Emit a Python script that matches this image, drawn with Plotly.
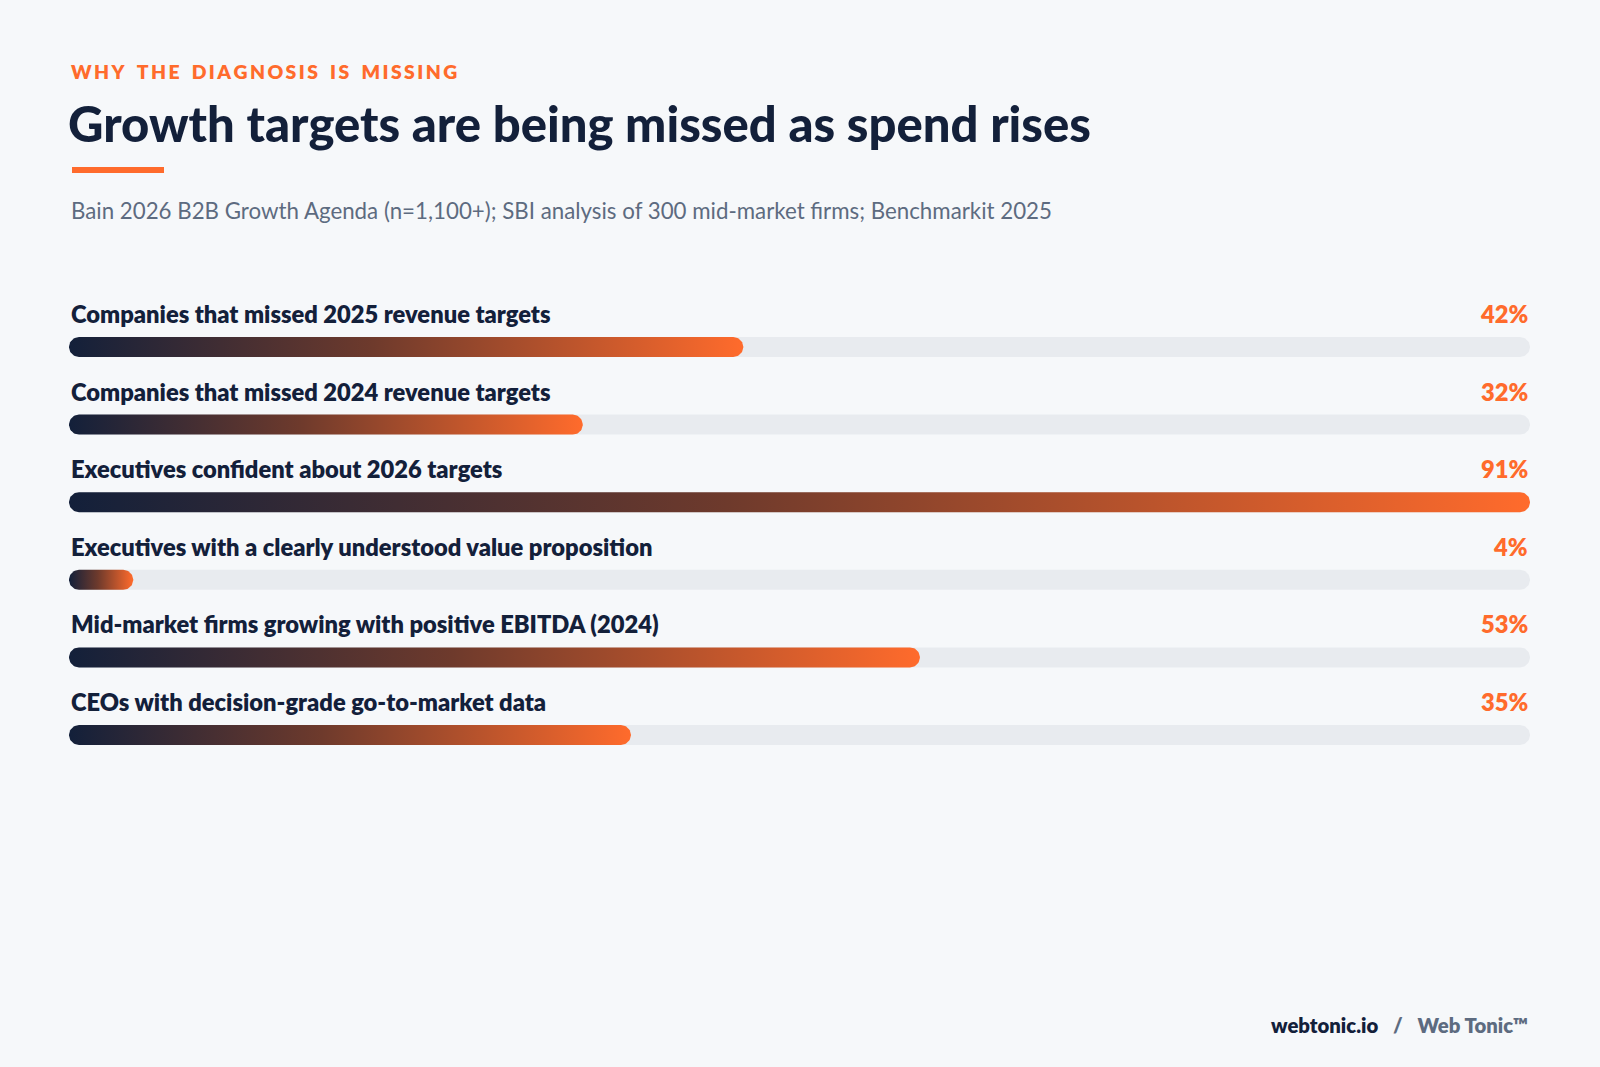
import numpy as np
import plotly.graph_objects as go

labels = ["Companies that missed 2025 revenue targets",
          "Companies that missed 2024 revenue targets",
          "Executives confident about 2026 targets",
          "Executives with a clearly understood value proposition",
          "Mid-market firms growing with positive EBITDA (2024)",
          "CEOs with decision-grade go-to-market data"]
values = [42, 32, 91, 4, 53, 35]

W, H = 1600, 1067
X0, X1 = 69, 1530
vmax = max(values)
NAVY = "#13203a"
ORANGE = "#ff6b2c"
BG = "#f6f8fa"
TRACK = "#e8ebef"
R = 10.0
rx = R * vmax / (X1 - X0)

def stadium(x_end, yc):
    t1 = np.linspace(np.pi/2, 3*np.pi/2, 30)
    t2 = np.linspace(-np.pi/2, np.pi/2, 30)
    xl = rx + rx*np.cos(t1); yl = yc - R*np.sin(t1)
    xr = max(x_end - rx, rx) + rx*np.cos(t2); yr = yc - R*np.sin(t2)
    xs = np.concatenate([xl, xr]); ys = np.concatenate([yl, yr])
    return list(xs) + [xs[0]], list(ys) + [ys[0]]

fig = go.Figure()
ann = []
for i, (lab, v) in enumerate(zip(labels, values)):
    yt = 347 + 77.6*i
    yl = 314 + 77.6*i
    tx, ty = stadium(vmax, yt)
    fig.add_trace(go.Scatter(x=tx, y=ty, fill="toself", fillcolor=TRACK, mode="lines",
                             line=dict(width=0), hoverinfo="skip", showlegend=False))
    bx, by = stadium(v, yt)
    fig.add_trace(go.Scatter(x=bx, y=by, fill="toself", mode="lines", line=dict(width=0),
                             fillgradient=dict(type="horizontal",
                                               colorscale=[[0, NAVY], [0.45, "#6e3a2c"], [1, ORANGE]]),
                             hovertemplate=f"{lab}: {v}%<extra></extra>", showlegend=False))
    ann.append(dict(x=X0/W, y=yl, xref="paper", yref="y", text=lab, showarrow=False,
                    xanchor="left", yanchor="middle",
                    font=dict(family="Lato", size=23.7, color=NAVY, weight=800)))
    ann.append(dict(x=X1/W, y=yl, xref="paper", yref="y", text=f"{v}%", showarrow=False,
                    xanchor="right", yanchor="middle",
                    font=dict(family="Lato", size=23.7, color=ORANGE, weight=800)))

tag = "\u2009".join("WHY THE DIAGNOSIS IS MISSING").replace("\u2009 \u2009", "\u2002\u2009")
ann += [
    dict(x=X0/W, y=71, xref="paper", yref="y", text=tag,
         showarrow=False, xanchor="left", yanchor="middle",
         font=dict(family="Lato", size=19.4, color=ORANGE, weight=800)),
    dict(x=X0/W - 0.002, y=123, xref="paper", yref="y", text="Growth targets are being missed as spend rises",
         showarrow=False, xanchor="left", yanchor="middle",
         font=dict(family="Lato", size=49, color=NAVY, weight=900)),
    dict(x=X0/W, y=210, xref="paper", yref="y",
         text="Bain 2026 B2B Growth Agenda (n=1,100+); SBI analysis of 300 mid-market firms; Benchmarkit 2025",
         showarrow=False, xanchor="left", yanchor="middle", font=dict(family="Lato", size=22.3, color="#5d6b80")),
    dict(x=X1/W, y=1025, xref="paper", yref="y",
         text="webtonic.io \u2002<span style='color:#5d6b80'>/ \u2002Web Tonic™</span>",
         showarrow=False, xanchor="right", yanchor="middle",
         font=dict(family="Lato", size=20.3, color=NAVY, weight=800)),
]

fig.update_layout(
    width=W, height=H, margin=dict(l=0, r=0, t=0, b=0),
    paper_bgcolor=BG, plot_bgcolor=BG,
    xaxis=dict(domain=[X0/W, X1/W], range=[0, vmax], visible=False, fixedrange=True),
    yaxis=dict(domain=[0, 1], range=[H, 0], visible=False, fixedrange=True),
    annotations=ann,
    shapes=[dict(type="line", xref="paper", yref="y", x0=(X0+3)/W, x1=(167-3)/W, y0=170, y1=170,
                 line=dict(color=ORANGE, width=6))],
)
fig.write_html("out.html", config={"displayModeBar": False},
               post_script="document.body.style.margin='0';document.body.style.background='#f6f8fa';")
